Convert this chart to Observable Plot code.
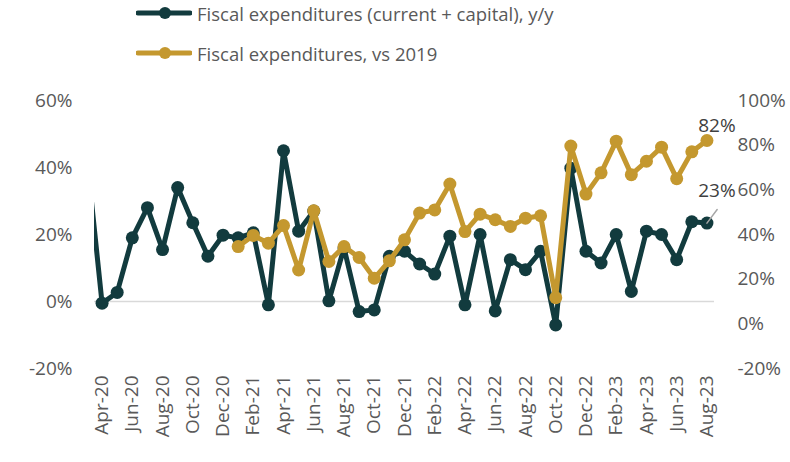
<!DOCTYPE html>
<html>
<head>
<meta charset="utf-8">
<script src="https://cdn.jsdelivr.net/npm/d3@7"></script>
<script src="https://cdn.jsdelivr.net/npm/@observablehq/plot@0.6"></script>
<style>
  body { margin: 0; background: white; font-family: "Open Sans", sans-serif; }
  #legend { position: relative; width: 790px; height: 70px; }
  .row { position: absolute; left: 136px; display: flex; align-items: center; color: #595959; font-size: 18.5px; white-space: nowrap; }
  .row svg { margin-right: 5px; }
</style>
</head>
<body>
<div id="legend"></div>
<div id="chart"></div>
<script>
const months = ["Mar-20","Apr-20","May-20","Jun-20","Jul-20","Aug-20","Sep-20","Oct-20","Nov-20","Dec-20",
  "Jan-21","Feb-21","Mar-21","Apr-21","May-21","Jun-21","Jul-21","Aug-21","Sep-21","Oct-21","Nov-21","Dec-21",
  "Jan-22","Feb-22","Mar-22","Apr-22","May-22","Jun-22","Jul-22","Aug-22","Sep-22","Oct-22","Nov-22","Dec-22",
  "Jan-23","Feb-23","Mar-23","Apr-23","May-23","Jun-23","Jul-23","Aug-23"];

// Fiscal expenditures (current + capital), y/y  (left axis, %)
const yoy = [43, -0.5, 2.7, 19, 28, 15.5, 34, 23.5, 13.5, 19.8,
  19, 20.5, -1, 45, 21, 27, 0.2, 16, -3, -2.5, 13.5, 15,
  11.2, 8.2, 19.5, -1, 20, -2.8, 12.5, 9.5, 15, -7, 39.8, 15,
  11.5, 20, 3, 21, 20, 12.5, 23.8, 23.4];

// Fiscal expenditures, vs 2019 (right axis, %)
const vs2019 = [null, null, null, null, null, null, null, null, null, null,
  34.6, 39.6, 36.1, 44, 24.1, 50.6, 27.9, 34.6, 29.7, 20.4, 28.2, 37.6,
  49.6, 51, 62.6, 41.3, 49.1, 46.6, 43.6, 47.3, 48.4, 11.7, 79.6, 58.1,
  67.6, 81.8, 66.8, 72.8, 79.1, 65, 77, 82.1];

const leftTicks = [-20, 0, 20, 40, 60];
const rightTicks = [-20, 0, 20, 40, 60, 80, 100];
const seriesNames = ["Fiscal expenditures (current + capital), y/y", "Fiscal expenditures, vs 2019"];
const colors = ["#123b3e", "#c4982f"];

// map right-axis values onto the left-axis scale
const toLeft = v => (v + 20) * 80 / 120 - 20;
const fromLeft = d => Math.round((d + 20) * 120 / 80 - 20);

const dark = months.map((m, i) => ({i, v: yoy[i]}));
const gold = months.map((m, i) => ({i, v: vs2019[i]})).filter(d => d.v != null).map(d => ({i: d.i, v: toLeft(d.v), raw: d.v}));
const lastDark = dark.slice(-1);
const lastGold = gold.slice(-1);

// legend
const legend = document.getElementById("legend");
seriesNames.forEach((name, k) => {
  const row = document.createElement("div");
  row.className = "row";
  row.style.top = (k === 0 ? 0 : 40) + "px";
  row.style.height = "26px";
  row.innerHTML = `<svg width="56" height="14"><line x1="2" x2="54" y1="7" y2="7" stroke="${colors[k]}" stroke-width="5" stroke-linecap="round"/><circle cx="29" cy="7" r="6" fill="${colors[k]}"/></svg><span>${name}</span>`;
  legend.appendChild(row);
});

const xTicks = months.map((m, i) => i).filter(i => i % 2 === 1);

const chart = Plot.plot({
  width: 790,
  height: 392,
  marginTop: 30,
  marginBottom: 94,
  marginLeft: 94,
  marginRight: 76,
  style: {fontFamily: "Open Sans", fontSize: "19px", color: "#595959", background: "white", overflow: "visible"},
  x: {domain: [0.5, 41.5], type: "linear"},
  y: {domain: [-20, 60]},
  marks: [
    Plot.axisX({ticks: xTicks, tickFormat: i => months[i], tickRotate: -90, tickSize: 0, tickPadding: 7, label: null, fill: "#595959"}),
    Plot.axisY({ticks: leftTicks, tickFormat: d => d + "%", anchor: "left", tickSize: 0, tickPadding: 22, label: null, fill: "#595959"}),
    Plot.axisY({ticks: rightTicks.map(toLeft), tickFormat: d => fromLeft(d) + "%", anchor: "right", tickSize: 0, tickPadding: 23, label: null, fill: "#595959"}),
    Plot.ruleY([0], {stroke: "#d9d9d9", strokeWidth: 1.5}),
    Plot.line(dark, {x: "i", y: "v", stroke: colors[0], strokeWidth: 5, clip: true}),
    Plot.dot(dark, {x: "i", y: "v", fill: colors[0], r: 6.5, clip: true}),
    Plot.line(gold, {x: "i", y: "v", stroke: colors[1], strokeWidth: 5, clip: true}),
    Plot.dot(gold, {x: "i", y: "v", fill: colors[1], r: 6.5, clip: true}),
    Plot.vector(lastDark, {x: "i", y: "v", length: 17, rotate: 37, anchor: "start", stroke: "#a6a6a6", strokeWidth: 1.5,
      shape: {draw(context, l) { context.moveTo(0, 0); context.lineTo(0, -l); }}}),
    Plot.text(lastDark, {x: "i", y: "v", text: d => Math.round(d.v) + "%", dx: 10, dy: -32, fill: "#404040", fontSize: 19}),
    Plot.text(lastGold, {x: "i", y: "v", text: d => Math.round(d.raw) + "%", dx: 10, dy: -15, fill: "#404040", fontSize: 19})
  ]
});
document.getElementById("chart").appendChild(chart);
</script>
</body>
</html>
